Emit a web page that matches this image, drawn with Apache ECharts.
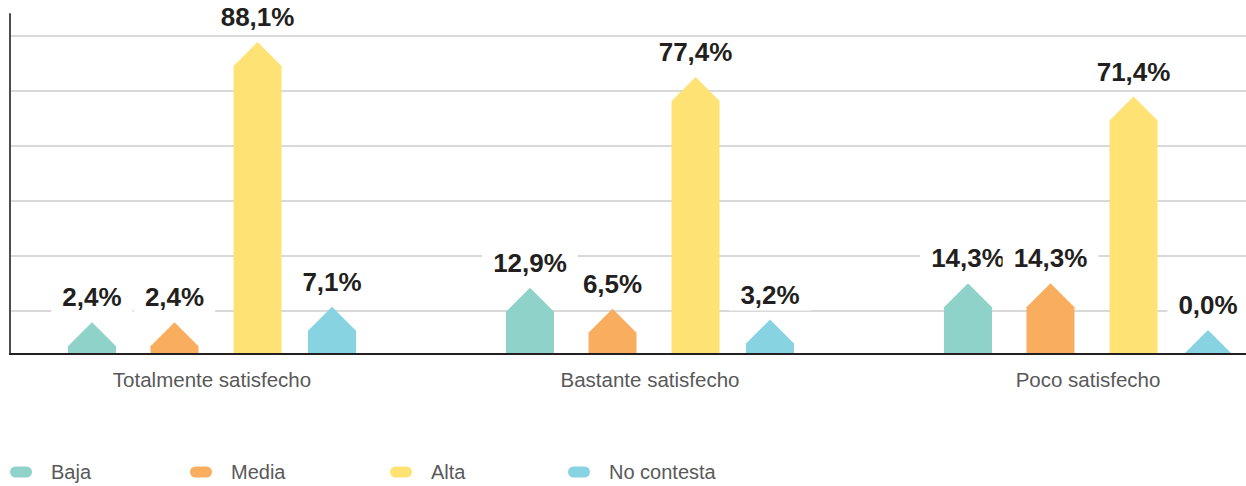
<!DOCTYPE html>
<html>
<head>
<meta charset="utf-8">
<script src="https://cdn.jsdelivr.net/npm/echarts@6/dist/echarts.min.js"></script>
<style>
  html, body { margin: 0; padding: 0; background: #ffffff; }
  #chart { width: 1246px; height: 486px; }
</style>
</head>
<body>
<div id="chart"></div>
<script>
// Satisfaction groups and the share of each level (percent)
const categories = ['Totalmente satisfecho', 'Bastante satisfecho', 'Poco satisfecho'];
const seriesNames = ['Baja', 'Media', 'Alta', 'No contesta'];
const baja = [2.4, 12.9, 14.3];
const media = [2.4, 6.5, 14.3];
const alta = [88.1, 77.4, 71.4];
const noContesta = [7.1, 3.2, 0.0];

const seriesValues = [baja, media, alta, noContesta];
const colors = ['#8fd2c9', '#f9ad5e', '#fee374', '#88d3e2'];

// Bar layout inside each category band (fraction of band width)
const BAR_OFFSETS = [-0.274, -0.0856, 0.104, 0.274];
const BAR_WIDTH = 48;
// Left edge of each legend entry
const LEGEND_LEFT = [5, 185, 385, 563];
const FONT = "'Liberation Sans', Arial, sans-serif";

const fmt = v => v.toFixed(1).replace('.', ',') + '%';

// Arrow-shaped bar: body from 0 to the value, plus a 45° roof on top
function renderArrowBar(params, api) {
  const cat = api.value(0);
  const v = api.value(1);
  const base = api.coord([cat, 0]);
  const top = api.coord([cat, v]);
  const band = api.size([1, 0])[0];
  const cx = base[0] + BAR_OFFSETS[params.seriesIndex] * band;
  const half = BAR_WIDTH / 2;
  const shoulder = top[1];
  const peak = shoulder - half;
  return {
    type: 'group',
    children: [
      {
        type: 'polygon',
        shape: {
          points: [
            [cx - half, base[1]],
            [cx - half, shoulder],
            [cx, peak],
            [cx + half, shoulder],
            [cx + half, base[1]]
          ]
        },
        style: { fill: api.visual('color') }
      },
      {
        type: 'text',
        x: cx,
        y: peak - 9,
        style: {
          text: fmt(v),
          fill: '#231f20',
          font: 'bold 26px ' + FONT,
          align: 'center',
          verticalAlign: 'bottom',
          lineHeight: 22,
          backgroundColor: '#ffffff',
          padding: [0, 11, 5, 11]
        }
      }
    ]
  };
}

const chart = echarts.init(document.getElementById('chart'), null, { renderer: 'svg' });

chart.setOption({
  animation: false,
  backgroundColor: '#ffffff',
  grid: [
    // frame: left axis and baseline
    { left: 10, right: 0, top: 14, bottom: 132, outerBoundsMode: 'none' },
    // horizontal guide lines
    { left: 10, right: 0, top: 36, height: 275, outerBoundsMode: 'none' },
    // bars and category labels (bands wider than the frame)
    { left: -7, width: 1314, top: 14, bottom: 132, outerBoundsMode: 'none', containLabel: false }
  ],
  xAxis: [
    {
      gridIndex: 0, type: 'category', data: categories, z: 5,
      axisLine: { show: true, lineStyle: { color: '#231f20', width: 2 } },
      axisTick: { show: false }, axisLabel: { show: false }, splitLine: { show: false }
    },
    {
      gridIndex: 1, type: 'category', data: categories, show: false
    },
    {
      gridIndex: 2, type: 'category', data: categories,
      axisLine: { show: false }, axisTick: { show: false },
      axisLabel: { color: '#595959', fontSize: 20.5, fontFamily: FONT, margin: 15 }
    }
  ],
  yAxis: [
    {
      gridIndex: 0, type: 'value', min: 0, max: 1,
      axisLine: { show: true, lineStyle: { color: '#4d4d4d', width: 2 } },
      axisTick: { show: false }, axisLabel: { show: false }, splitLine: { show: false }
    },
    {
      gridIndex: 1, type: 'value', min: 0, max: 5, interval: 1,
      axisLine: { show: false }, axisTick: { show: false }, axisLabel: { show: false },
      splitLine: { show: true, lineStyle: { color: '#d9d9d9', width: 2 } }
    },
    {
      gridIndex: 2, type: 'value', min: 0, max: 104, show: false,
      splitLine: { show: false }
    }
  ],
  // one legend entry per level, placed along the bottom edge
  legend: seriesNames.map((name, i) => ({
    left: LEGEND_LEFT[i],
    top: 457,
    itemWidth: 22,
    itemHeight: 11,
    icon: 'path://M5.5,0 H16.5 A5.5,5.5 0 0 1 16.5,11 H5.5 A5.5,5.5 0 0 1 5.5,0 Z',
    textStyle: { color: '#595959', fontSize: 20, fontFamily: FONT, padding: [0, 0, 0, 14] },
    data: [name]
  })),
  series: seriesNames.map((name, i) => ({
    name: name,
    type: 'custom',
    xAxisIndex: 2,
    yAxisIndex: 2,
    color: colors[i],
    itemStyle: { color: colors[i] },
    renderItem: renderArrowBar,
    encode: { x: 0, y: 1 },
    data: seriesValues[i].map((v, c) => [c, v])
  }))
});
</script>
</body>
</html>
